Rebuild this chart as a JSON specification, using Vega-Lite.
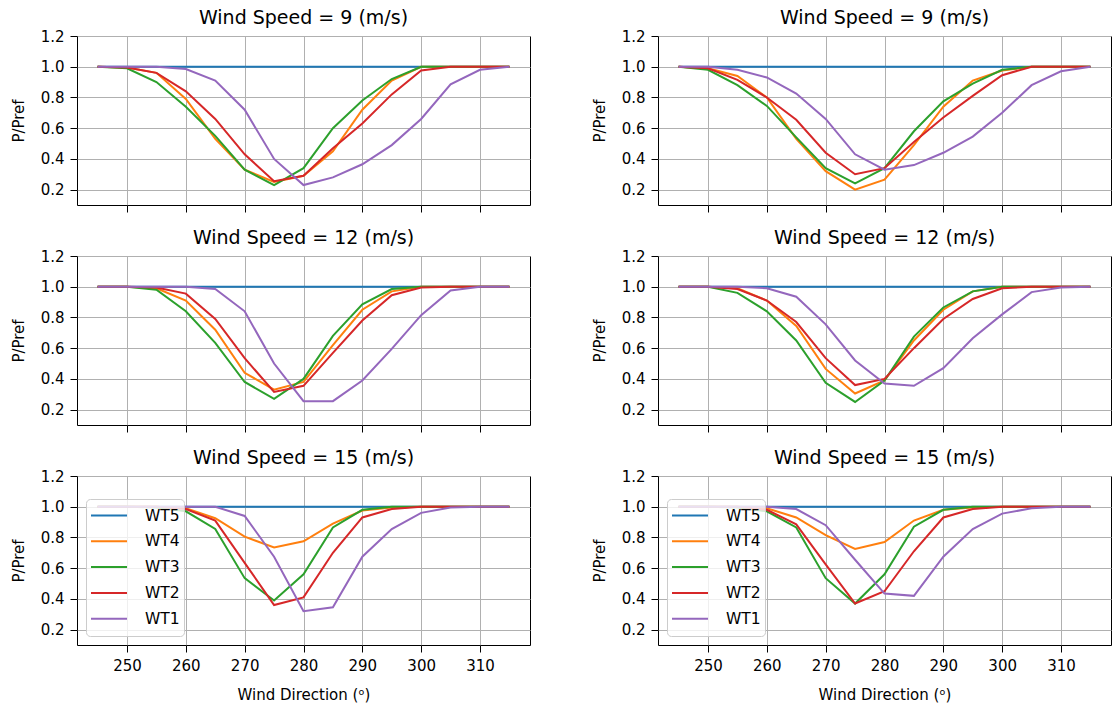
{
  "$schema": "https://vega.github.io/schema/vega-lite/v6.json",
  "padding": {"left": 10, "top": 8, "right": 0, "bottom": 2},
  "background": "white",
  "datasets": {
    "wake": [
      {"ws": 9, "run": "a", "dir": 245, "WT5": 1, "WT4": 1, "WT3": 1, "WT2": 1, "WT1": 1},
      {"ws": 9, "run": "a", "dir": 250, "WT5": 1, "WT4": 0.995, "WT3": 0.99, "WT2": 0.995, "WT1": 1},
      {"ws": 9, "run": "a", "dir": 255, "WT5": 1, "WT4": 0.96, "WT3": 0.9, "WT2": 0.96, "WT1": 1},
      {"ws": 9, "run": "a", "dir": 260, "WT5": 1, "WT4": 0.79, "WT3": 0.74, "WT2": 0.84, "WT1": 0.985},
      {"ws": 9, "run": "a", "dir": 265, "WT5": 1, "WT4": 0.53, "WT3": 0.55, "WT2": 0.66, "WT1": 0.91},
      {"ws": 9, "run": "a", "dir": 270, "WT5": 1, "WT4": 0.33, "WT3": 0.33, "WT2": 0.43, "WT1": 0.72},
      {"ws": 9, "run": "a", "dir": 275, "WT5": 1, "WT4": 0.25, "WT3": 0.23, "WT2": 0.255, "WT1": 0.4},
      {"ws": 9, "run": "a", "dir": 280, "WT5": 1, "WT4": 0.29, "WT3": 0.34, "WT2": 0.29, "WT1": 0.23},
      {"ws": 9, "run": "a", "dir": 285, "WT5": 1, "WT4": 0.45, "WT3": 0.6, "WT2": 0.47, "WT1": 0.28},
      {"ws": 9, "run": "a", "dir": 290, "WT5": 1, "WT4": 0.72, "WT3": 0.78, "WT2": 0.63, "WT1": 0.365},
      {"ws": 9, "run": "a", "dir": 295, "WT5": 1, "WT4": 0.91, "WT3": 0.92, "WT2": 0.82, "WT1": 0.49},
      {"ws": 9, "run": "a", "dir": 300, "WT5": 1, "WT4": 1, "WT3": 1, "WT2": 0.975, "WT1": 0.66},
      {"ws": 9, "run": "a", "dir": 305, "WT5": 1, "WT4": 1, "WT3": 1, "WT2": 1, "WT1": 0.885},
      {"ws": 9, "run": "a", "dir": 310, "WT5": 1, "WT4": 1, "WT3": 1, "WT2": 1, "WT1": 0.98},
      {"ws": 9, "run": "a", "dir": 315, "WT5": 1, "WT4": 1, "WT3": 1, "WT2": 1, "WT1": 1},

      {"ws": 9, "run": "b", "dir": 245, "WT5": 1, "WT4": 1, "WT3": 1, "WT2": 1, "WT1": 1},
      {"ws": 9, "run": "b", "dir": 250, "WT5": 1, "WT4": 0.99, "WT3": 0.98, "WT2": 0.99, "WT1": 1},
      {"ws": 9, "run": "b", "dir": 255, "WT5": 1, "WT4": 0.94, "WT3": 0.88, "WT2": 0.915, "WT1": 0.98},
      {"ws": 9, "run": "b", "dir": 260, "WT5": 1, "WT4": 0.8, "WT3": 0.745, "WT2": 0.8, "WT1": 0.93},
      {"ws": 9, "run": "b", "dir": 265, "WT5": 1, "WT4": 0.53, "WT3": 0.54, "WT2": 0.655, "WT1": 0.825},
      {"ws": 9, "run": "b", "dir": 270, "WT5": 1, "WT4": 0.32, "WT3": 0.34, "WT2": 0.44, "WT1": 0.66},
      {"ws": 9, "run": "b", "dir": 275, "WT5": 1, "WT4": 0.2, "WT3": 0.24, "WT2": 0.3, "WT1": 0.43},
      {"ws": 9, "run": "b", "dir": 280, "WT5": 1, "WT4": 0.265, "WT3": 0.34, "WT2": 0.34, "WT1": 0.33},
      {"ws": 9, "run": "b", "dir": 285, "WT5": 1, "WT4": 0.49, "WT3": 0.58, "WT2": 0.51, "WT1": 0.36},
      {"ws": 9, "run": "b", "dir": 290, "WT5": 1, "WT4": 0.74, "WT3": 0.775, "WT2": 0.67, "WT1": 0.44},
      {"ws": 9, "run": "b", "dir": 295, "WT5": 1, "WT4": 0.91, "WT3": 0.89, "WT2": 0.81, "WT1": 0.545},
      {"ws": 9, "run": "b", "dir": 300, "WT5": 1, "WT4": 0.975, "WT3": 0.98, "WT2": 0.945, "WT1": 0.7},
      {"ws": 9, "run": "b", "dir": 305, "WT5": 1, "WT4": 1, "WT3": 1, "WT2": 1, "WT1": 0.88},
      {"ws": 9, "run": "b", "dir": 310, "WT5": 1, "WT4": 1, "WT3": 1, "WT2": 1, "WT1": 0.97},
      {"ws": 9, "run": "b", "dir": 315, "WT5": 1, "WT4": 1, "WT3": 1, "WT2": 1, "WT1": 1},

      {"ws": 12, "run": "a", "dir": 245, "WT5": 1, "WT4": 1, "WT3": 1, "WT2": 1, "WT1": 1},
      {"ws": 12, "run": "a", "dir": 250, "WT5": 1, "WT4": 1, "WT3": 1, "WT2": 1, "WT1": 1},
      {"ws": 12, "run": "a", "dir": 255, "WT5": 1, "WT4": 0.99, "WT3": 0.98, "WT2": 0.995, "WT1": 1},
      {"ws": 12, "run": "a", "dir": 260, "WT5": 1, "WT4": 0.91, "WT3": 0.84, "WT2": 0.955, "WT1": 1},
      {"ws": 12, "run": "a", "dir": 265, "WT5": 1, "WT4": 0.72, "WT3": 0.635, "WT2": 0.79, "WT1": 0.985},
      {"ws": 12, "run": "a", "dir": 270, "WT5": 1, "WT4": 0.44, "WT3": 0.38, "WT2": 0.535, "WT1": 0.84},
      {"ws": 12, "run": "a", "dir": 275, "WT5": 1, "WT4": 0.33, "WT3": 0.27, "WT2": 0.315, "WT1": 0.5},
      {"ws": 12, "run": "a", "dir": 280, "WT5": 1, "WT4": 0.38, "WT3": 0.4, "WT2": 0.355, "WT1": 0.255},
      {"ws": 12, "run": "a", "dir": 285, "WT5": 1, "WT4": 0.62, "WT3": 0.68, "WT2": 0.57, "WT1": 0.255},
      {"ws": 12, "run": "a", "dir": 290, "WT5": 1, "WT4": 0.85, "WT3": 0.885, "WT2": 0.78, "WT1": 0.39},
      {"ws": 12, "run": "a", "dir": 295, "WT5": 1, "WT4": 0.97, "WT3": 0.985, "WT2": 0.945, "WT1": 0.595},
      {"ws": 12, "run": "a", "dir": 300, "WT5": 1, "WT4": 1, "WT3": 1, "WT2": 0.995, "WT1": 0.815},
      {"ws": 12, "run": "a", "dir": 305, "WT5": 1, "WT4": 1, "WT3": 1, "WT2": 1, "WT1": 0.975},
      {"ws": 12, "run": "a", "dir": 310, "WT5": 1, "WT4": 1, "WT3": 1, "WT2": 1, "WT1": 1},
      {"ws": 12, "run": "a", "dir": 315, "WT5": 1, "WT4": 1, "WT3": 1, "WT2": 1, "WT1": 1},

      {"ws": 12, "run": "b", "dir": 245, "WT5": 1, "WT4": 1, "WT3": 1, "WT2": 1, "WT1": 1},
      {"ws": 12, "run": "b", "dir": 250, "WT5": 1, "WT4": 1, "WT3": 1, "WT2": 1, "WT1": 1},
      {"ws": 12, "run": "b", "dir": 255, "WT5": 1, "WT4": 0.99, "WT3": 0.96, "WT2": 0.985, "WT1": 1},
      {"ws": 12, "run": "b", "dir": 260, "WT5": 1, "WT4": 0.91, "WT3": 0.84, "WT2": 0.91, "WT1": 0.99},
      {"ws": 12, "run": "b", "dir": 265, "WT5": 1, "WT4": 0.745, "WT3": 0.65, "WT2": 0.77, "WT1": 0.935},
      {"ws": 12, "run": "b", "dir": 270, "WT5": 1, "WT4": 0.465, "WT3": 0.375, "WT2": 0.535, "WT1": 0.755},
      {"ws": 12, "run": "b", "dir": 275, "WT5": 1, "WT4": 0.305, "WT3": 0.25, "WT2": 0.36, "WT1": 0.52},
      {"ws": 12, "run": "b", "dir": 280, "WT5": 1, "WT4": 0.39, "WT3": 0.39, "WT2": 0.4, "WT1": 0.37},
      {"ws": 12, "run": "b", "dir": 285, "WT5": 1, "WT4": 0.65, "WT3": 0.675, "WT2": 0.6, "WT1": 0.355},
      {"ws": 12, "run": "b", "dir": 290, "WT5": 1, "WT4": 0.85, "WT3": 0.865, "WT2": 0.79, "WT1": 0.47},
      {"ws": 12, "run": "b", "dir": 295, "WT5": 1, "WT4": 0.97, "WT3": 0.97, "WT2": 0.92, "WT1": 0.665},
      {"ws": 12, "run": "b", "dir": 300, "WT5": 1, "WT4": 1, "WT3": 1, "WT2": 0.99, "WT1": 0.82},
      {"ws": 12, "run": "b", "dir": 305, "WT5": 1, "WT4": 1, "WT3": 1, "WT2": 1, "WT1": 0.965},
      {"ws": 12, "run": "b", "dir": 310, "WT5": 1, "WT4": 1, "WT3": 1, "WT2": 1, "WT1": 0.995},
      {"ws": 12, "run": "b", "dir": 315, "WT5": 1, "WT4": 1, "WT3": 1, "WT2": 1, "WT1": 1},

      {"ws": 15, "run": "a", "dir": 245, "WT5": 1, "WT4": 1, "WT3": 1, "WT2": 1, "WT1": 1},
      {"ws": 15, "run": "a", "dir": 250, "WT5": 1, "WT4": 1, "WT3": 1, "WT2": 1, "WT1": 1},
      {"ws": 15, "run": "a", "dir": 255, "WT5": 1, "WT4": 1, "WT3": 0.995, "WT2": 1, "WT1": 1},
      {"ws": 15, "run": "a", "dir": 260, "WT5": 1, "WT4": 0.99, "WT3": 0.97, "WT2": 0.985, "WT1": 1},
      {"ws": 15, "run": "a", "dir": 265, "WT5": 1, "WT4": 0.925, "WT3": 0.855, "WT2": 0.91, "WT1": 1},
      {"ws": 15, "run": "a", "dir": 270, "WT5": 1, "WT4": 0.805, "WT3": 0.535, "WT2": 0.635, "WT1": 0.94},
      {"ws": 15, "run": "a", "dir": 275, "WT5": 1, "WT4": 0.735, "WT3": 0.39, "WT2": 0.36, "WT1": 0.675},
      {"ws": 15, "run": "a", "dir": 280, "WT5": 1, "WT4": 0.775, "WT3": 0.56, "WT2": 0.41, "WT1": 0.32},
      {"ws": 15, "run": "a", "dir": 285, "WT5": 1, "WT4": 0.89, "WT3": 0.865, "WT2": 0.7, "WT1": 0.345},
      {"ws": 15, "run": "a", "dir": 290, "WT5": 1, "WT4": 0.975, "WT3": 0.98, "WT2": 0.93, "WT1": 0.675},
      {"ws": 15, "run": "a", "dir": 295, "WT5": 1, "WT4": 0.995, "WT3": 1, "WT2": 0.985, "WT1": 0.855},
      {"ws": 15, "run": "a", "dir": 300, "WT5": 1, "WT4": 1, "WT3": 1, "WT2": 1, "WT1": 0.96},
      {"ws": 15, "run": "a", "dir": 305, "WT5": 1, "WT4": 1, "WT3": 1, "WT2": 1, "WT1": 0.995},
      {"ws": 15, "run": "a", "dir": 310, "WT5": 1, "WT4": 1, "WT3": 1, "WT2": 1, "WT1": 1},
      {"ws": 15, "run": "a", "dir": 315, "WT5": 1, "WT4": 1, "WT3": 1, "WT2": 1, "WT1": 1},

      {"ws": 15, "run": "b", "dir": 245, "WT5": 1, "WT4": 1, "WT3": 1, "WT2": 1, "WT1": 1},
      {"ws": 15, "run": "b", "dir": 250, "WT5": 1, "WT4": 1, "WT3": 1, "WT2": 1, "WT1": 1},
      {"ws": 15, "run": "b", "dir": 255, "WT5": 1, "WT4": 1, "WT3": 0.995, "WT2": 1, "WT1": 1},
      {"ws": 15, "run": "b", "dir": 260, "WT5": 1, "WT4": 0.99, "WT3": 0.97, "WT2": 0.98, "WT1": 1},
      {"ws": 15, "run": "b", "dir": 265, "WT5": 1, "WT4": 0.93, "WT3": 0.865, "WT2": 0.885, "WT1": 0.985},
      {"ws": 15, "run": "b", "dir": 270, "WT5": 1, "WT4": 0.815, "WT3": 0.535, "WT2": 0.625, "WT1": 0.88},
      {"ws": 15, "run": "b", "dir": 275, "WT5": 1, "WT4": 0.725, "WT3": 0.37, "WT2": 0.37, "WT1": 0.655},
      {"ws": 15, "run": "b", "dir": 280, "WT5": 1, "WT4": 0.77, "WT3": 0.56, "WT2": 0.45, "WT1": 0.435},
      {"ws": 15, "run": "b", "dir": 285, "WT5": 1, "WT4": 0.91, "WT3": 0.87, "WT2": 0.71, "WT1": 0.42},
      {"ws": 15, "run": "b", "dir": 290, "WT5": 1, "WT4": 0.98, "WT3": 0.98, "WT2": 0.93, "WT1": 0.675},
      {"ws": 15, "run": "b", "dir": 295, "WT5": 1, "WT4": 0.995, "WT3": 1, "WT2": 0.985, "WT1": 0.855},
      {"ws": 15, "run": "b", "dir": 300, "WT5": 1, "WT4": 1, "WT3": 1, "WT2": 1, "WT1": 0.955},
      {"ws": 15, "run": "b", "dir": 305, "WT5": 1, "WT4": 1, "WT3": 1, "WT2": 1, "WT1": 0.99},
      {"ws": 15, "run": "b", "dir": 310, "WT5": 1, "WT4": 1, "WT3": 1, "WT2": 1, "WT1": 1},
      {"ws": 15, "run": "b", "dir": 315, "WT5": 1, "WT4": 1, "WT3": 1, "WT2": 1, "WT1": 1}
    ]
  },
  "data": {"name": "wake"},
  "spacing": 15,
  "resolve": {"scale": {"color": "independent"}, "legend": {"color": "independent"}},
  "vconcat": [
    {
      "spacing": 60,
      "resolve": {"scale": {"color": "independent"}, "legend": {"color": "independent"}},
      "hconcat": [
        {
          "title": "Wind Speed = 9 (m/s)",
          "width": 453, "height": 169,
          "transform": [
            {"filter": "datum.ws == 9 && datum.run == 'a'"},
            {"fold": ["WT5", "WT4", "WT3", "WT2", "WT1"], "as": ["turbine", "p"]}
          ],
          "mark": {"type": "line", "strokeWidth": 2},
          "encoding": {
            "x": {"field": "dir", "type": "quantitative", "scale": {"domain": [241.5, 318.5], "nice": false, "zero": false},
                  "axis": {"values": [250, 260, 270, 280, 290, 300, 310], "labels": false, "title": null}},
            "y": {"field": "p", "type": "quantitative", "scale": {"domain": [0.1, 1.2], "nice": false, "zero": false},
                  "axis": {"values": [0.2, 0.4, 0.6, 0.8, 1.0, 1.2], "format": ".1f", "title": "P/Pref"}},
            "color": {"field": "turbine", "type": "nominal", "sort": null,
                      "scale": {"domain": ["WT5", "WT4", "WT3", "WT2", "WT1"], "range": ["#1f77b4", "#ff7f0e", "#2ca02c", "#d62728", "#9467bd"]},
                      "legend": null}
          }
        },
        {
          "title": "Wind Speed = 9 (m/s)",
          "width": 453, "height": 169,
          "transform": [
            {"filter": "datum.ws == 9 && datum.run == 'b'"},
            {"fold": ["WT5", "WT4", "WT3", "WT2", "WT1"], "as": ["turbine", "p"]}
          ],
          "mark": {"type": "line", "strokeWidth": 2},
          "encoding": {
            "x": {"field": "dir", "type": "quantitative", "scale": {"domain": [241.5, 318.5], "nice": false, "zero": false},
                  "axis": {"values": [250, 260, 270, 280, 290, 300, 310], "labels": false, "title": null}},
            "y": {"field": "p", "type": "quantitative", "scale": {"domain": [0.1, 1.2], "nice": false, "zero": false},
                  "axis": {"values": [0.2, 0.4, 0.6, 0.8, 1.0, 1.2], "format": ".1f", "title": "P/Pref"}},
            "color": {"field": "turbine", "type": "nominal", "sort": null,
                      "scale": {"domain": ["WT5", "WT4", "WT3", "WT2", "WT1"], "range": ["#1f77b4", "#ff7f0e", "#2ca02c", "#d62728", "#9467bd"]},
                      "legend": null}
          }
        }
      ]
    },
    {
      "spacing": 60,
      "resolve": {"scale": {"color": "independent"}, "legend": {"color": "independent"}},
      "hconcat": [
        {
          "title": "Wind Speed = 12 (m/s)",
          "width": 453, "height": 169,
          "transform": [
            {"filter": "datum.ws == 12 && datum.run == 'a'"},
            {"fold": ["WT5", "WT4", "WT3", "WT2", "WT1"], "as": ["turbine", "p"]}
          ],
          "mark": {"type": "line", "strokeWidth": 2},
          "encoding": {
            "x": {"field": "dir", "type": "quantitative", "scale": {"domain": [241.5, 318.5], "nice": false, "zero": false},
                  "axis": {"values": [250, 260, 270, 280, 290, 300, 310], "labels": false, "title": null}},
            "y": {"field": "p", "type": "quantitative", "scale": {"domain": [0.1, 1.2], "nice": false, "zero": false},
                  "axis": {"values": [0.2, 0.4, 0.6, 0.8, 1.0, 1.2], "format": ".1f", "title": "P/Pref"}},
            "color": {"field": "turbine", "type": "nominal", "sort": null,
                      "scale": {"domain": ["WT5", "WT4", "WT3", "WT2", "WT1"], "range": ["#1f77b4", "#ff7f0e", "#2ca02c", "#d62728", "#9467bd"]},
                      "legend": null}
          }
        },
        {
          "title": "Wind Speed = 12 (m/s)",
          "width": 453, "height": 169,
          "transform": [
            {"filter": "datum.ws == 12 && datum.run == 'b'"},
            {"fold": ["WT5", "WT4", "WT3", "WT2", "WT1"], "as": ["turbine", "p"]}
          ],
          "mark": {"type": "line", "strokeWidth": 2},
          "encoding": {
            "x": {"field": "dir", "type": "quantitative", "scale": {"domain": [241.5, 318.5], "nice": false, "zero": false},
                  "axis": {"values": [250, 260, 270, 280, 290, 300, 310], "labels": false, "title": null}},
            "y": {"field": "p", "type": "quantitative", "scale": {"domain": [0.1, 1.2], "nice": false, "zero": false},
                  "axis": {"values": [0.2, 0.4, 0.6, 0.8, 1.0, 1.2], "format": ".1f", "title": "P/Pref"}},
            "color": {"field": "turbine", "type": "nominal", "sort": null,
                      "scale": {"domain": ["WT5", "WT4", "WT3", "WT2", "WT1"], "range": ["#1f77b4", "#ff7f0e", "#2ca02c", "#d62728", "#9467bd"]},
                      "legend": null}
          }
        }
      ]
    },
    {
      "spacing": 60,
      "resolve": {"scale": {"color": "independent"}, "legend": {"color": "independent"}},
      "hconcat": [
        {
          "title": "Wind Speed = 15 (m/s)",
          "width": 453, "height": 169,
          "transform": [
            {"filter": "datum.ws == 15 && datum.run == 'a'"},
            {"fold": ["WT5", "WT4", "WT3", "WT2", "WT1"], "as": ["turbine", "p"]}
          ],
          "mark": {"type": "line", "strokeWidth": 2},
          "encoding": {
            "x": {"field": "dir", "type": "quantitative", "scale": {"domain": [241.5, 318.5], "nice": false, "zero": false},
                  "axis": {"values": [250, 260, 270, 280, 290, 300, 310], "title": "Wind Direction (ᵒ)"}},
            "y": {"field": "p", "type": "quantitative", "scale": {"domain": [0.1, 1.2], "nice": false, "zero": false},
                  "axis": {"values": [0.2, 0.4, 0.6, 0.8, 1.0, 1.2], "format": ".1f", "title": "P/Pref"}},
            "color": {"field": "turbine", "type": "nominal", "sort": null,
                      "scale": {"domain": ["WT5", "WT4", "WT3", "WT2", "WT1"], "range": ["#1f77b4", "#ff7f0e", "#2ca02c", "#d62728", "#9467bd"]},
                      "legend": {"orient": "bottom-left", "offset": 9, "title": null}}
          }
        },
        {
          "title": "Wind Speed = 15 (m/s)",
          "width": 453, "height": 169,
          "transform": [
            {"filter": "datum.ws == 15 && datum.run == 'b'"},
            {"fold": ["WT5", "WT4", "WT3", "WT2", "WT1"], "as": ["turbine", "p"]}
          ],
          "mark": {"type": "line", "strokeWidth": 2},
          "encoding": {
            "x": {"field": "dir", "type": "quantitative", "scale": {"domain": [241.5, 318.5], "nice": false, "zero": false},
                  "axis": {"values": [250, 260, 270, 280, 290, 300, 310], "title": "Wind Direction (ᵒ)"}},
            "y": {"field": "p", "type": "quantitative", "scale": {"domain": [0.1, 1.2], "nice": false, "zero": false},
                  "axis": {"values": [0.2, 0.4, 0.6, 0.8, 1.0, 1.2], "format": ".1f", "title": "P/Pref"}},
            "color": {"field": "turbine", "type": "nominal", "sort": null,
                      "scale": {"domain": ["WT5", "WT4", "WT3", "WT2", "WT1"], "range": ["#1f77b4", "#ff7f0e", "#2ca02c", "#d62728", "#9467bd"]},
                      "legend": {"orient": "bottom-left", "offset": 9, "title": null}}
          }
        }
      ]
    }
  ],
  "config": {
    "font": "DejaVu Sans",
    "view": {"stroke": "black", "strokeWidth": 1},
    "axis": {
      "domain": false, "grid": true, "gridColor": "#b0b0b0", "gridWidth": 1, "gridOpacity": 1,
      "ticks": true, "tickColor": "black", "tickSize": 7, "tickWidth": 1,
      "labelFont": "DejaVu Sans", "labelFontSize": 15, "labelColor": "black", "labelPadding": 6,
      "titleFont": "DejaVu Sans", "titleFontSize": 15, "titleFontWeight": "normal", "titleColor": "black", "titlePadding": 14
    },
    "title": {"font": "DejaVu Sans", "fontSize": 19, "fontWeight": "normal", "color": "black", "offset": 1},
    "legend": {
      "fillColor": "rgba(255,255,255,0.8)", "strokeColor": "#cccccc", "cornerRadius": 4, "padding": 4,
      "symbolType": "stroke", "symbolSize": 1296, "symbolStrokeWidth": 2, "clipHeight": 25,
      "labelFont": "DejaVu Sans", "labelFontSize": 15.5, "labelColor": "black", "labelOffset": 17, "rowPadding": 0.8
    }
  }
}
